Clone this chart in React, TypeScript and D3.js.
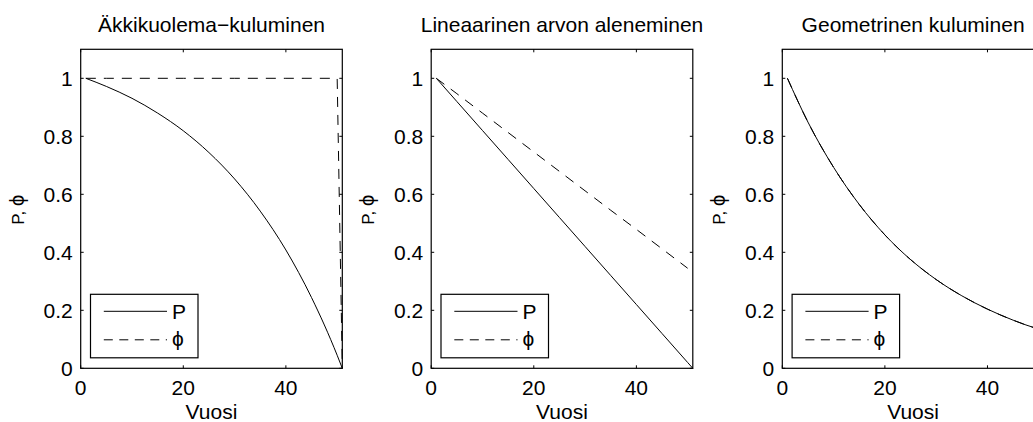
import React from "react";
import * as d3 from "d3";

const years = [1, 5, 10, 15, 20, 25, 30, 35, 40, 45, 50, 51];

const titles = ["Äkkikuolema\u2212kuluminen", "Lineaarinen arvon aleneminen", "Geometrinen kuluminen"];

const pSudden = [1, 0.972, 0.931, 0.88, 0.819, 0.744, 0.653, 0.542, 0.408, 0.244, 0.045, 0];
const phiSudden = [1, 1, 1, 1, 1, 1, 1, 1, 1, 1, 1, 0];

const pLinear = [1, 0.92, 0.82, 0.72, 0.62, 0.52, 0.42, 0.32, 0.22, 0.12, 0.02, 0];
const phiLinear: (number | null)[] = [1, 0.947, 0.88, 0.813, 0.746, 0.679, 0.612, 0.545, 0.479, 0.412, 0.345, null];

const pGeom = [1, 0.849, 0.693, 0.565, 0.46, 0.375, 0.306, 0.25, 0.204, 0.166, 0.135, 0.13];
const phiGeom = [1, 0.849, 0.693, 0.565, 0.46, 0.375, 0.306, 0.25, 0.204, 0.166, 0.135, 0.13];

const xTicks = [0, 20, 40];
const yTicks = [0, 0.2, 0.4, 0.6, 0.8, 1];
const yTickLabels = ["0", "0.2", "0.4", "0.6", "0.8", "1"];
const xLabel = "Vuosi";
const yLabelMain = "P, ";
const yLabelSym = "\u03D5";
const legendLabels = ["P", "\u03D5"];

const panels = [
  { title: titles[0], p: pSudden, phi: phiSudden, phiSmooth: false },
  { title: titles[1], p: pLinear, phi: phiLinear, phiSmooth: false },
  { title: titles[2], p: pGeom, phi: phiGeom, phiSmooth: true },
];

const FONT = "'Liberation Sans', Arial, Helvetica, sans-serif";
const W = 261.6;
const H = 319;
const TOP = 49.3;
const LEFTS = [80.7, 431.2, 782.3];

function Panel({ idx }: { idx: number }) {
  const pn = panels[idx];
  const x = d3.scaleLinear().domain([0, 51]).range([0, W]);
  const y = d3.scaleLinear().domain([0, 1.1]).range([H, 0]);
  const pts = (vals: (number | null)[]) => years.map((yr, i) => [yr, vals[i]] as [number, number | null]);
  const smooth = d3
    .line<[number, number | null]>()
    .defined((d) => d[1] !== null)
    .x((d) => x(d[0]))
    .y((d) => y(d[1] as number))
    .curve(d3.curveMonotoneX);
  const straight = d3
    .line<[number, number | null]>()
    .defined((d) => d[1] !== null)
    .x((d) => x(d[0]))
    .y((d) => y(d[1] as number));
  const tk = 3;
  const fs = 21;
  return (
    <g transform={`translate(${LEFTS[idx]},${TOP})`}>
      <text x={W / 2} y={32.3 - TOP} textAnchor="middle" fontSize={fs} fontFamily={FONT} fill="#000">
        {pn.title}
      </text>
      <path
        d={(pn.phiSmooth ? smooth : straight)(pts(pn.phi)) || ""}
        fill="none"
        stroke="#000"
        strokeWidth={1}
        strokeDasharray="10,8"
      />
      <path d={(idx === 1 ? straight : smooth)(pts(pn.p)) || ""} fill="none" stroke="#000" strokeWidth={1} />
      {xTicks.map((t) => (
        <g key={"x" + t}>
          <line x1={x(t)} x2={x(t)} y1={H} y2={H - tk} stroke="#000" />
          <line x1={x(t)} x2={x(t)} y1={0} y2={tk} stroke="#000" />
          <text x={x(t)} y={H + 27} textAnchor="middle" fontSize={fs} fontFamily={FONT} fill="#000">
            {t}
          </text>
        </g>
      ))}
      {yTicks.map((t, i) => (
        <g key={"y" + t}>
          <line x1={0} x2={tk} y1={y(t)} y2={y(t)} stroke="#000" />
          <line x1={W} x2={W - tk} y1={y(t)} y2={y(t)} stroke="#000" />
          <text x={-8} y={y(t) + 7.5} textAnchor="end" fontSize={fs} fontFamily={FONT} fill="#000">
            {yTickLabels[i]}
          </text>
        </g>
      ))}
      <rect x={0} y={0} width={W} height={H} fill="none" stroke="#000" strokeWidth={1.2} />
      <text x={W / 2} y={419 - TOP} textAnchor="middle" fontSize={fs} fontFamily={FONT} fill="#000">
        {xLabel}
      </text>
      <text
        transform={`translate(-57,${H / 2 + 1}) rotate(-90)`}
        textAnchor="middle"
        fontSize={17}
        fontFamily={FONT}
        fill="#000"
      >
        {yLabelMain}
        <tspan fontSize={20}>{yLabelSym}</tspan>
      </text>
      <g transform={`translate(${9.8},${294.3 - TOP})`}>
        <rect x={0} y={0} width={107.5} height={63.5} fill="#fff" stroke="#000" strokeWidth={1.2} />
        <line x1={13.3} x2={76.5} y1={17} y2={17} stroke="#000" strokeWidth={1} />
        <text x={81.5} y={25} fontSize={fs} fontFamily={FONT} fill="#000">
          {legendLabels[0]}
        </text>
        <line x1={13.3} x2={76.5} y1={45.5} y2={45.5} stroke="#000" strokeWidth={1} strokeDasharray="9,6.5" />
        <text x={81.5} y={52} fontSize={fs} fontFamily={FONT} fill="#000">
          {legendLabels[1]}
        </text>
      </g>
    </g>
  );
}

export default function App() {
  return (
    <div style={{ position: "absolute", left: 0, top: 0, width: 1033, height: 422, overflow: "hidden" }}>
      <svg width={1033} height={422} style={{ display: "block", background: "#fff" }}>
        <rect x={0} y={0} width={1033} height={422} fill="#fff" />
        {panels.map((_, i) => (
          <Panel key={i} idx={i} />
        ))}
      </svg>
    </div>
  );
}
